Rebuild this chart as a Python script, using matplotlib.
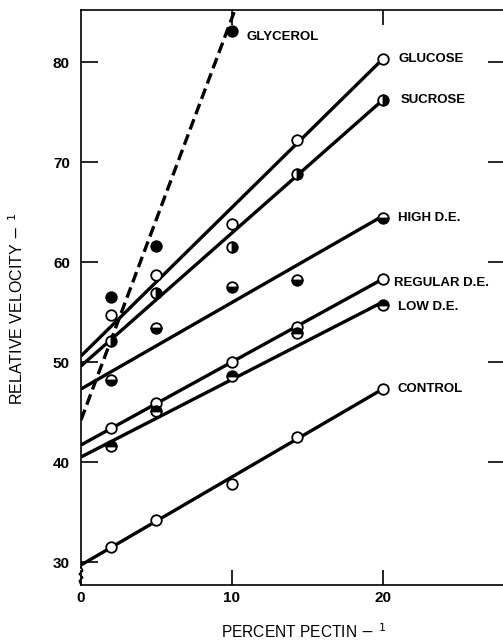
import matplotlib
matplotlib.use("Agg")
import matplotlib.pyplot as plt
from matplotlib.lines import Line2D

# ---- data ----
pectin_inv = [2, 5, 10, 14.3, 20]
glycerol_x = [2, 5, 10]
glycerol = [56.5, 61.6, 83.1]
glucose = [54.7, 58.7, 63.8, 72.2, 80.3]
sucrose = [52.1, 56.9, 61.5, 68.8, 76.2]
high_de = [48.2, 53.4, 57.5, 58.2, 64.4]
regular_de = [43.4, 45.9, 50.0, 53.5, 58.3]
low_de = [41.6, 45.1, 48.6, 52.9, 55.7]
control = [31.5, 34.2, 37.8, 42.5, 47.3]

# drawn regression lines (value at x start / x end)
line_x = [0, 20]
glycerol_line_x = [0, 10.6]
glycerol_line = [44.2, 86.8]
glucose_line = [50.6, 80.3]
sucrose_line = [49.6, 76.2]
high_de_line = [47.3, 64.6]
regular_de_line = [41.7, 58.3]
low_de_line = [40.5, 56.0]
control_line = [29.7, 47.3]

labels = ["GLYCEROL", "GLUCOSE", "SUCROSE", "HIGH D.E.", "REGULAR D.E.", "LOW D.E.", "CONTROL"]

x_ticks = [0, 10, 20]
y_ticks = [30, 40, 50, 60, 70, 80]

W, H = 503, 643
fig = plt.figure(figsize=(W / 100, H / 100), dpi=100)
ax = fig.add_axes([81 / W, (H - 585) / H, (505 - 81) / W, (585 - 10) / H])
ax.set_xlim(0, 28.1)
ax.set_ylim(27.7, 85.2)

LW = 2.4
MS = 7.6
MEW = 1.3

series = [
    (pectin_inv, glucose, glucose_line, dict(mfc="white"), labels[1], (16, 0)),
    (pectin_inv, sucrose, sucrose_line, dict(mfc="black", fillstyle="right", mfcalt="white"), labels[2], (18, 0)),
    (pectin_inv, high_de, high_de_line, dict(mfc="black", fillstyle="bottom", mfcalt="white"), labels[3], (15, 0)),
    (pectin_inv, regular_de, regular_de_line, dict(mfc="white"), labels[4], (11, -4)),
    (pectin_inv, low_de, low_de_line, dict(mfc="black", fillstyle="top", mfcalt="white"), labels[5], (15, -2)),
    (pectin_inv, control, control_line, dict(mfc="white"), labels[6], (15, 0)),
]

for xs, ys, ln, mk, lab, off in series:
    ax.plot(line_x, ln, color="black", lw=LW, solid_capstyle="butt", zorder=2)
    ax.plot(xs, ys, linestyle="none", marker="o", ms=MS, mec="black", mew=MEW,
            zorder=3, **mk)
    ax.annotate(lab, xy=(xs[-1], ys[-1]), xytext=off, textcoords="offset pixels",
                ha="left", va="center", fontsize=9.5, fontweight="bold",
                family="Liberation Sans")

# glycerol (dashed)
ax.plot(glycerol_line_x, glycerol_line, color="black", lw=LW,
        linestyle=(0, (3.3, 1.6)), zorder=2)
ax.plot(glycerol_x, glycerol, linestyle="none", marker="o", ms=MS, mfc="black",
        mec="black", mew=MEW, zorder=3)
ax.annotate(labels[0], xy=(glycerol_x[-1], glycerol[-1]), xytext=(15, -6),
            textcoords="offset pixels", ha="left", va="center", fontsize=9.5,
            fontweight="bold", family="Liberation Sans")

# axes styling
for s in ax.spines.values():
    s.set_linewidth(1.2)
ax.spines["left"].set_bounds(29.4, 85.2)
# axis break zigzag
zz_x = [0, 0.004, -0.004, 0.004, -0.004, 0]
zz_y = [0.031, 0.025, 0.019, 0.013, 0.007, 0.0]
ax.add_line(Line2D(zz_x, zz_y, transform=ax.transAxes, color="black", lw=1.2,
                   clip_on=False))

ax.set_xticks(x_ticks)
ax.set_yticks(y_ticks)
ax.tick_params(axis="both", direction="in", width=1.2, labelsize=11)
ax.tick_params(axis="y", length=12, pad=8)
ax.tick_params(axis="x", length=11, pad=4)
ax.xaxis.get_major_ticks()[0].tick1line.set_visible(False)
for t in ax.get_xticklabels() + ax.get_yticklabels():
    t.set_fontweight("bold")
    t.set_family("Liberation Sans")

# right and top ticks
axr = ax.twinx()
axr.set_ylim(ax.get_ylim())
axr.set_yticks(y_ticks[1:])
axr.tick_params(axis="y", direction="in", length=12, width=1.2, labelright=False)
axt = ax.twiny()
axt.set_xlim(ax.get_xlim())
axt.set_xticks(x_ticks[1:])
axt.tick_params(axis="x", direction="in", length=11, width=1.2, labeltop=False)
for a in (axr, axt):
    for s in a.spines.values():
        s.set_visible(False)

ax.set_ylabel(r"RELATIVE VELOCITY $-\ ^{1}$", fontsize=11.5,
              family=["Liberation Sans Narrow", "Liberation Sans"])
ax.yaxis.set_label_coords(-0.13, 0.48)
ax.set_xlabel(r"PERCENT PECTIN $-\ ^{1}$", fontsize=11.2,
              family=["Liberation Sans Narrow", "Liberation Sans"])
ax.xaxis.set_label_coords(0.525, -0.065)

fig.savefig("out.png", dpi=100)
